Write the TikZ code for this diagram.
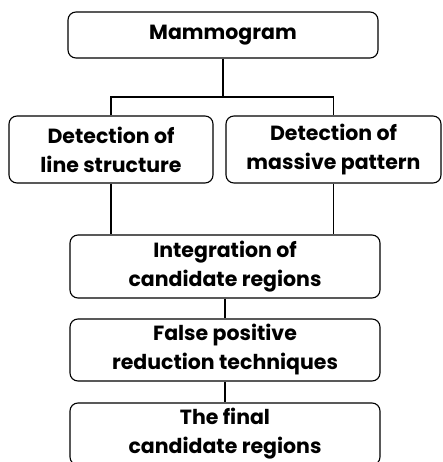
\documentclass[tikz,border=0pt]{standalone}
\usepackage{fontspec}
\setmainfont{Poppins}
\usepackage{tikz}
\usetikzlibrary{positioning,calc}

\begin{document}
\begin{tikzpicture}[
  x=1pt, y=-1pt,
  every node/.style={font=\fontsize{20.5}{29}\selectfont\bfseries},
  box/.style={draw, line width=1.1pt, rounded corners=8pt, align=center,
    inner sep=0pt, minimum height=62pt},
  edge/.style={line width=1.1pt},
]
  \useasboundingbox (0,0) rectangle (442,462);
  % boxes
  \node[box, minimum width=310pt, minimum height=46pt] (mammo) at (223, 35)    {Mammogram};
  \node[box, minimum width=204pt, minimum height=67pt] (line)  at (111, 149.5) {Detection of\\line structure};
  \node[box, minimum width=215pt, minimum height=67pt] (mass)  at (333.5, 149.5) {Detection of\\massive pattern};
  \node[box, minimum width=310pt, minimum height=63pt] (integ) at (225, 266.5) {Integration of\\candidate regions};
  \node[box, minimum width=310pt] (fpr)   at (225, 350)   {False positive\\reduction techniques};
  \node[box, minimum width=310pt] (final) at (225, 434)   {The final\\candidate regions};
  \coordinate (split) at (223, 97);
  % connectors
  \draw[edge] (mammo.south) -- (split);
  \draw[edge] (line.north) |- (split) -| (mass.north);
  \draw[edge] (line.south) -- (line.south |- integ.north);
  \draw[edge] (mass.south) -- (mass.south |- integ.north);
  \draw[edge] (integ) -- (fpr);
  \draw[edge] (fpr) -- (final);
\end{tikzpicture}
\end{document}
